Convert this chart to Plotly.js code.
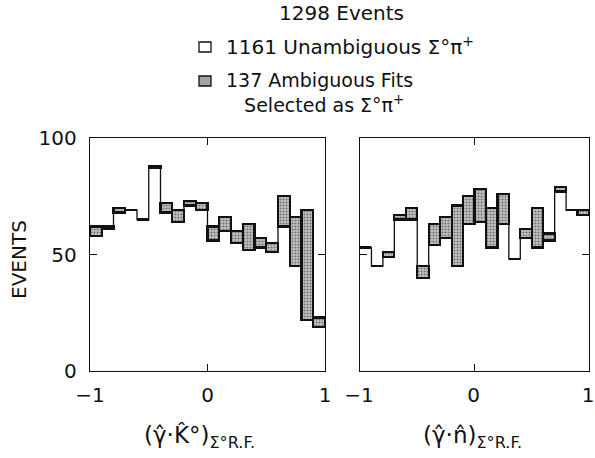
<!DOCTYPE html>
<html>
<head>
<meta charset="utf-8">
<script src="https://cdn.plot.ly/plotly-3.0.1.min.js"></script>
<style>html,body{margin:0;padding:0;background:#fff;}#chart{width:595px;height:458px;}</style>
</head>
<body>
<div id="chart"></div>
<script>
// Bin centers (20 bins from -1 to 1)
const binCenters = [-0.95,-0.85,-0.75,-0.65,-0.55,-0.45,-0.35,-0.25,-0.15,-0.05,
                    0.05,0.15,0.25,0.35,0.45,0.55,0.65,0.75,0.85,0.95];
const binWidth = 0.1;

// Left panel: cos(gamma . K0)
const leftUnambiguous = [58,61,68,69,65,87,68,64,71,69,56,60,55,52,53,51,62,45,22,19];
const leftAmbiguous   = [4,1,2,0,0,1,4,5,2,3,6,6,5,11,4,4,13,21,47,4];

// Right panel: cos(gamma . n)
const rightUnambiguous = [53,45,49,65,65,40,54,57,45,63,64,53,63,48,57,53,56,77,69,67];
const rightAmbiguous   = [0,0,2,2,5,5,9,9,26,12,14,17,13,0,4,17,3,2,0,2];

const yTickVals = [0,50,100];
const yTickText = ["0","50","100"];
const xTickVals = [-1,0,1];
const xTickText = ["\u22121","0","1"];

const FONT = "DejaVu Sans, Verdana, sans-serif";
const GREY = "#a4a4a4";

function stepOutline(unamb, amb) {
  const xs = [], ys = [];
  for (let i = 0; i < binCenters.length; i++) {
    xs.push(binCenters[i] - binWidth/2);
    ys.push(unamb[i] + amb[i]);
  }
  xs.push(binCenters[binCenters.length-1] + binWidth/2);
  ys.push(unamb[unamb.length-1] + amb[amb.length-1]);
  return {xs, ys};
}

function panelTraces(unamb, amb, xa, ya) {
  const st = stepOutline(unamb, amb);
  return [
    {type:'bar', x:binCenters, y:unamb, width:binWidth, xaxis:xa, yaxis:ya,
     marker:{color:'#ffffff', line:{width:0}}, hoverinfo:'skip', showlegend:false},
    {type:'bar', x:binCenters, y:amb, width:binWidth, xaxis:xa, yaxis:ya,
     marker:{color:GREY, line:{color:'#111', width:2.2},
             pattern:{shape:'.', fgcolor:'#707070', bgcolor:'#c6c6c6', size:3, solidity:0.4}},
     hoverinfo:'skip', showlegend:false},
    {type:'scatter', mode:'lines', x:st.xs, y:st.ys, xaxis:xa, yaxis:ya,
     line:{shape:'hv', color:'#111', width:1.3}, hoverinfo:'skip', showlegend:false}
  ];
}

const data = [
  ...panelTraces(leftUnambiguous, leftAmbiguous, 'x', 'y'),
  ...panelTraces(rightUnambiguous, rightAmbiguous, 'x2', 'y2')
];

const xAxisBase = {
  range:[-1,1], tickvals:xTickVals, ticktext:xTickText,
  ticks:'inside', ticklen:7, tickwidth:1.2, tickcolor:'#111',
  showline:true, linecolor:'#111', linewidth:1.3, mirror:'ticks',
  showgrid:false, zeroline:false, fixedrange:true, ticklabeloverflow:'allow',
  tickfont:{family:FONT, size:20, color:'#111'}, ticklabelstandoff:6
};
const yAxisBase = {
  range:[0,100], tickvals:yTickVals, ticktext:yTickText,
  ticks:'inside', ticklen:7, tickwidth:1.2, tickcolor:'#111',
  showline:true, linecolor:'#111', linewidth:1.3, mirror:'ticks',
  showgrid:false, zeroline:false, fixedrange:true,
  tickfont:{family:FONT, size:20, color:'#111'}, ticklabelstandoff:8
};

// helpers: pixel -> paper
const L = 90, R = 6, T = 138, B = 87, W = 595, H = 458;
const pw = W - L - R, ph = H - T - B;
const px = v => (v - L) / pw;
const py = v => (H - B - v) / ph;

const layout = {
  width:W, height:H,
  margin:{l:L, r:R, t:T, b:B},
  paper_bgcolor:'#fff', plot_bgcolor:'#fff',
  barmode:'stack', bargap:0,
  xaxis:Object.assign({}, xAxisBase, {domain:[0, px(325)], anchor:'y'}),
  yaxis:Object.assign({}, yAxisBase, {anchor:'x'}),
  xaxis2:Object.assign({}, xAxisBase, {domain:[px(360), 1], anchor:'y2', ticklabelshift:-1}),
  yaxis2:Object.assign({}, yAxisBase, {anchor:'x2', showticklabels:false}),
  font:{family:FONT, color:'#111'},
  shapes:[
    {type:'rect', xref:'paper', yref:'paper', x0:px(199), x1:px(211), y0:py(52), y1:py(42),
     line:{color:'#111', width:1.3}, fillcolor:'#fff'},
    {type:'rect', xref:'paper', yref:'paper', x0:px(199), x1:px(211), y0:py(86), y1:py(76),
     line:{color:'#111', width:1.3}, fillcolor:GREY}
  ],
  annotations:[
    {xref:'paper', yref:'paper', x:px(341), y:py(13), text:'1298 Events', showarrow:false,
     xanchor:'center', yanchor:'middle', font:{family:FONT, size:20}},
    {xref:'paper', yref:'paper', x:px(224), y:py(46), text:'1161 Unambiguous \u03A3\u00B0\u03C0<sup>+</sup>', showarrow:false,
     xanchor:'left', yanchor:'middle', font:{family:FONT, size:20}},
    {xref:'paper', yref:'paper', x:px(224), y:py(67), yanchor:'top',
     text:'137 Ambiguous Fits<br>\u00A0\u00A0\u00A0Selected as \u03A3\u00B0\u03C0<sup>+</sup>', showarrow:false,
     xanchor:'left', align:'left', font:{family:FONT, size:19}},
    {xref:'paper', yref:'paper', x:px(19), y:py(260), text:'EVENTS', showarrow:false, textangle:-90,
     xanchor:'center', yanchor:'middle', font:{family:FONT, size:20}},
    {xref:'paper', yref:'paper', x:px(199), y:py(437), text:'(\u03B3\u0302\u00B7K\u0302\u00B0)<sub>\u03A3\u00B0R.F.</sub>', showarrow:false,
     xanchor:'center', yanchor:'middle', font:{family:FONT, size:23}},
    {xref:'paper', yref:'paper', x:px(472), y:py(437), text:'(\u03B3\u0302\u00B7n\u0302)<sub>\u03A3\u00B0R.F.</sub>', showarrow:false,
     xanchor:'center', yanchor:'middle', font:{family:FONT, size:23}}
  ]
};

Plotly.newPlot('chart', data, layout, {staticPlot:true, displayModeBar:false});
</script>
</body>
</html>
